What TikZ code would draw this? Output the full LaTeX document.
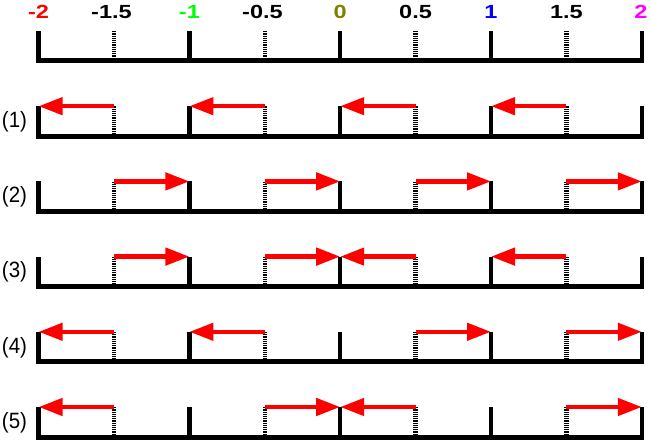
\documentclass[tikz,border=0pt]{standalone}
\usepackage{fontspec}
\usepackage{graphicx}
\setmainfont{Liberation Sans}
\usetikzlibrary{arrows.meta}
\definecolor{olivec}{RGB}{128,128,0}
\definecolor{greenc}{RGB}{0,255,0}
\definecolor{bluec}{RGB}{0,0,255}
\definecolor{magc}{RGB}{255,0,255}
\definecolor{redc}{RGB}{255,0,0}
\newcommand{\wide}[1]{\scalebox{1.24}[1]{#1}}
\newcommand{\tall}[1]{\scalebox{1}[1.08]{#1}}
\begin{document}
\begin{tikzpicture}[x=1pt,y=-1pt,
  solidtick/.style={line width=4.5pt},
  dottick/.style={line width=4.5pt, dash pattern=on 1.2pt off 1pt},
  baseln/.style={line width=5pt},
  redarrow/.style={draw=redc, line width=4.5pt, -{Triangle[length=24pt,width=17pt]}},
  toplabel/.style={font=\bfseries\fontsize{19}{19}\selectfont, inner sep=0pt},
  rowlabel/.style={font=\fontsize{20.5}{20.5}\selectfont, inner sep=0pt}]
\useasboundingbox (0,0) rectangle (651,444);
% axes
\foreach \r in {0,...,5}{
  \pgfmathsetmacro\yb{61+75.2*\r}
  \draw[baseln] (36.3,\yb) -- (644,\yb);
  \foreach \i in {0,...,8}{
    \pgfmathsetmacro\xx{38.6+75.4*\i}
    \coordinate (p\r-\i) at (\xx,\yb-30);
    \coordinate (b\r-\i) at (\xx,\yb);
  }
  \foreach \i in {0,2,4,6,8}{ \draw[solidtick] (b\r-\i) -- (p\r-\i); }
  \foreach \i in {1,3,5,7}{ \draw[dottick] (b\r-\i) -- (p\r-\i); }
}
% top labels
\node[toplabel, text=redc] (l0) at (38.6,11.8) {\wide{-2}};
\node[toplabel, text=black] (l1) at (111.5,11.8) {\wide{-1.5}};
\node[toplabel, text=greenc] (l2) at (189.4,11.8) {\wide{-1}};
\node[toplabel, text=black] (l3) at (262.5,11.8) {\wide{-0.5}};
\node[toplabel, text=olivec] (l4) at (340.2,11.8) {\wide{0}};
\node[toplabel, text=black] (l5) at (415.6,11.8) {\wide{0.5}};
\node[toplabel, text=bluec] (l6) at (491,11.8) {\wide{1}};
\node[toplabel, text=black] (l7) at (566.4,11.8) {\wide{1.5}};
\node[toplabel, text=magc] (l8) at (641,11.8) {\wide{2}};
% row labels
\foreach \r in {1,...,5}{
  \pgfmathsetmacro\yl{61+75.2*\r-14.5}
  \node[rowlabel] (r\r) at (14.5,\yl) {\tall{(\r)}};
}
% arrows
\foreach \a/\b in {1/0,3/2,5/4,7/6}{ \draw[redarrow] (p1-\a) -- (p1-\b); }
\foreach \a/\b in {1/2,3/4,5/6,7/8}{ \draw[redarrow] (p2-\a) -- (p2-\b); }
\foreach \a/\b in {1/2,3/4,5/4,7/6}{ \draw[redarrow] (p3-\a) -- (p3-\b); }
\foreach \a/\b in {1/0,3/2,5/6,7/8}{ \draw[redarrow] (p4-\a) -- (p4-\b); }
\foreach \a/\b in {1/0,3/4,5/4,7/8}{ \draw[redarrow] (p5-\a) -- (p5-\b); }
\end{tikzpicture}
\end{document}
